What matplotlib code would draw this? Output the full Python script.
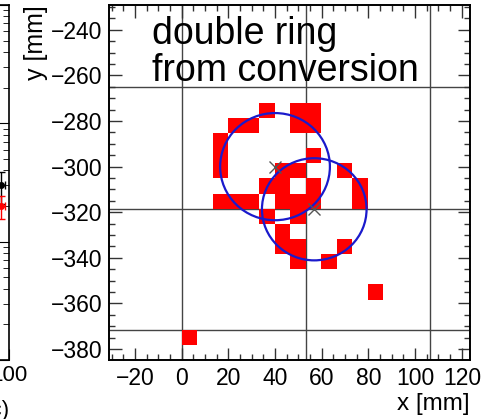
import matplotlib
matplotlib.use("Agg")
import matplotlib.pyplot as plt
from matplotlib.ticker import MultipleLocator
from matplotlib.patches import Circle

plt.rcParams['font.family'] = ['Liberation Sans', 'DejaVu Sans']
plt.rcParams['axes.unicode_minus'] = True

# Fired photo-sensor pixels (centres, mm)
hit_x = [36.6, 49.9, 56.5,
         23.3, 29.9, 49.9, 56.5,
         16.6,
         16.6, 56.5,
         16.6, 43.2, 49.9, 69.8,
         36.6, 43.2, 56.5, 76.5,
         16.6, 23.3, 29.9, 43.2, 49.9, 56.5, 76.5,
         36.6, 49.9,
         43.2,
         43.2, 49.9, 69.8,
         49.9, 63.2,
         83.1,
         3.3]
hit_y = [-275.2, -275.2, -275.2,
         -281.9, -281.9, -281.9, -281.9,
         -288.5,
         -295.2, -295.2,
         -301.8, -301.8, -301.8, -301.8,
         -308.5, -308.5, -308.5, -308.5,
         -315.1, -315.1, -315.1, -315.1, -315.1, -315.1, -315.1,
         -321.8, -321.8,
         -328.4,
         -335.1, -335.1, -335.1,
         -341.7, -341.7,
         -355.0,
         -374.9]
pixel_size = 6.65

# Fitted rings
ring_x = [40.0, 56.8]
ring_y = [-300.0, -318.7]
ring_r = [23.5, 22.4]

# Module boundaries
bound_x = [0.0, 53.2, 106.4]
bound_y = [-265.2, -318.4, -371.6]

x_ticks = [-20, 0, 20, 40, 60, 80, 100, 120]
y_ticks = [-380, -360, -340, -320, -300, -280, -260, -240]

# neighbouring panel (partially visible)
side_x = [96.0, 96.0]
side_y = [30.0, 20.0]
side_err = [9.0, 4.5]
side_col = ['black', 'red']

W, H = 499, 419
fig = plt.figure(figsize=(W / 100, H / 100), dpi=100)

# ---- neighbouring panel -----------------------------------------------
axl = fig.add_axes([-200 / W, 1 - 360 / H, 209 / W, 355 / H])
axl.set_yscale('log')
axl.set_xlim(0, 100)
axl.set_ylim(1, 1e3)
for xx, yy, ee, cc in zip(side_x, side_y, side_err, side_col):
    axl.errorbar([xx], [yy], yerr=[ee], xerr=[2.0], fmt='o', color=cc, ms=4,
                 lw=1, capsize=3)
axl.set_xticks([100])
axl.set_xticklabels(['100'], fontsize=16)
axl.tick_params(axis='y', which='both', direction='in', right=True, left=False,
                labelleft=False, length=8)
axl.tick_params(axis='y', which='minor', length=4)
axl.tick_params(axis='x', direction='in', length=8)
for s in axl.spines.values():
    s.set_linewidth(1.2)
fig.text(10 / W, 1 - 410 / H, '(c)', fontsize=16, ha='right', va='center')

# ---- main panel --------------------------------------------------------
ax = fig.add_axes([109 / W, 1 - 360 / H, 361 / W, 355 / H])
ax.set_xlim(-31.1, 123.5)
ax.set_ylim(-384.8, -229.1)

for gx in bound_x:
    ax.axvline(gx, color='#444444', lw=1.0, zorder=1)
for gy in bound_y:
    ax.axhline(gy, color='#444444', lw=1.0, zorder=1)

ax.bar(hit_x, [pixel_size] * len(hit_x), width=pixel_size,
       bottom=[y - pixel_size / 2 for y in hit_y],
       color='#ff0000', edgecolor='none', zorder=2)

for cx, cy, r in zip(ring_x, ring_y, ring_r):
    ax.add_patch(Circle((cx, cy), r, fill=False, edgecolor='#1a1acc', lw=1.6, zorder=3))
ax.plot(ring_x, ring_y, 'x', color='#555555', ms=9, mew=1.0, ls='none', zorder=4)

ax.set_xticks(x_ticks)
ax.set_yticks(y_ticks)
ax.xaxis.set_minor_locator(MultipleLocator(5))
ax.yaxis.set_minor_locator(MultipleLocator(5))
ax.tick_params(which='both', direction='in', top=True, right=True, labelsize=16.5,
               color='#333333')
ax.tick_params(which='major', length=9, width=1.0, pad=5)
ax.tick_params(which='minor', length=4.5, width=1.0)
for s in ax.spines.values():
    s.set_linewidth(1.4)

ax.text(-12.5, -234.0, 'double ring\nfrom conversion', fontsize=27,
        ha='left', va='top', linespacing=1.02, zorder=5)

ax.set_xlabel('x [mm]', fontsize=17.5, loc='right', labelpad=2)
ax.set_ylabel('y [mm]', fontsize=18, loc='top', labelpad=2)

fig.savefig('out.png', dpi=100)
